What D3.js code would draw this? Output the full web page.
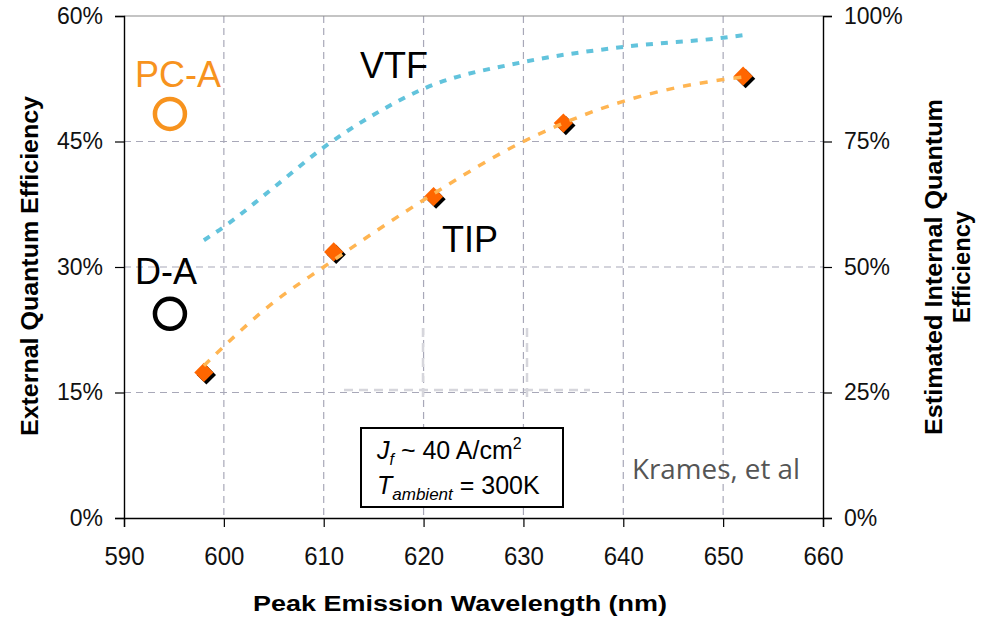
<!DOCTYPE html>
<html>
<head>
<meta charset="utf-8">
<script src="https://cdn.jsdelivr.net/npm/d3@7"></script>
<style>
  body { margin: 0; background: #fff; }
  svg { font-family: Arial, "Liberation Sans", sans-serif; }
</style>
</head>
<body>
<div id="chart"></div>
<script>
// data
const xTicks = [590, 600, 610, 620, 630, 640, 650, 660];
const eqeTicks = [0, 15, 30, 45, 60];
const iqeTicks = [0, 25, 50, 75, 100];

const tipWave = [598, 611, 621, 634, 652];
const tipEqe = [17.4, 31.8, 38.4, 47.2, 52.8];

const tipTrendWave = [598, 605, 610, 620, 630, 640, 650, 652];
const tipTrendEqe = [18.2, 25.8, 30.0, 38.0, 45.0, 49.8, 52.4, 52.7];

const vtfWave = [598, 600, 605, 610, 615, 620, 630, 640, 650, 652];
const vtfEqe = [33.2, 34.8, 39.5, 44.3, 48.2, 51.3, 54.5, 56.3, 57.4, 57.7];

const refNames = ["PC-A", "D-A"];
const refWave = [594.6, 594.6];
const refEqe = [48.3, 24.4];
const refColors = ["#F7931E", "#000000"];

const W = 990, H = 619;
const mLeft = 124, mRight = 823, mTop = 16, mBottom = 518;

const svg = d3.select("#chart").append("svg")
  .attr("width", W).attr("height", H);

const x = d3.scaleLinear().domain([590, 660]).range([mLeft, mRight]);
const y = d3.scaleLinear().domain([0, 60]).range([mBottom, mTop]);
const y2 = d3.scaleLinear().domain([0, 100]).range([mBottom, mTop]);

// grid
const grid = svg.append("g");
grid.selectAll(".vg").data(xTicks.slice(1, -1)).enter().append("line")
  .attr("x1", d => x(d)).attr("x2", d => x(d))
  .attr("y1", mTop).attr("y2", mBottom)
  .attr("stroke", "#A8A8B8").attr("stroke-width", 1.2)
  .attr("stroke-dasharray", "7,5");
grid.selectAll(".hg").data(eqeTicks.slice(1, -1)).enter().append("line")
  .attr("x1", mLeft).attr("x2", mRight)
  .attr("y1", d => y(d)).attr("y2", d => y(d))
  .attr("stroke", "#A8A8B8").attr("stroke-width", 1.2)
  .attr("stroke-dasharray", "7,5");

// faint ghost lines in the picture
const ghost = svg.append("g").attr("stroke", "#D6D6DC").attr("stroke-width", 2.5)
  .attr("stroke-dasharray", "9,6").attr("fill", "none");
ghost.append("line").attr("x1", 344).attr("x2", 590).attr("y1", 390).attr("y2", 390);
ghost.append("line").attr("x1", 423).attr("x2", 423).attr("y1", 328).attr("y2", 402);
ghost.append("line").attr("x1", 527).attr("x2", 527).attr("y1", 328).attr("y2", 402);

// top border
svg.append("line").attr("x1", mLeft).attr("x2", mRight).attr("y1", mTop).attr("y2", mTop)
  .attr("stroke", "#8a8a8a").attr("stroke-width", 1.2);

// axes
const axisFont = "23px";
const gx = svg.append("g").attr("transform", `translate(0,${mBottom})`)
  .call(d3.axisBottom(x).tickValues(xTicks).tickSize(9).tickPadding(20).tickFormat(d3.format("d")));
gx.selectAll("text").attr("font-size", "26px").attr("fill", "#111")
  .attr("textLength", 40).attr("lengthAdjust", "spacingAndGlyphs");
const gy = svg.append("g").attr("transform", `translate(${mLeft},0)`)
  .call(d3.axisLeft(y).tickValues(eqeTicks).tickSize(9).tickPadding(12).tickFormat(d => d + "%"));
gy.selectAll("text").attr("font-size", axisFont).attr("fill", "#111");
const gy2 = svg.append("g").attr("transform", `translate(${mRight},0)`)
  .call(d3.axisRight(y2).tickValues(iqeTicks).tickSize(9).tickPadding(12).tickFormat(d => d + "%"));
gy2.selectAll("text").attr("font-size", axisFont).attr("fill", "#111");
svg.selectAll(".domain").attr("stroke", "#000").attr("stroke-width", 1.4);
svg.selectAll(".tick line").attr("stroke", "#000").attr("stroke-width", 1.2);

// axis titles
svg.append("text").attr("x", 460).attr("y", 611).attr("text-anchor", "middle")
  .attr("font-weight", "bold").attr("font-size", "22px")
  .attr("textLength", 414).attr("lengthAdjust", "spacingAndGlyphs")
  .text("Peak Emission Wavelength (nm)");
svg.append("text").attr("transform", "translate(38,266) rotate(-90)").attr("text-anchor", "middle")
  .attr("font-weight", "bold").attr("font-size", "23px")
  .attr("textLength", 340).attr("lengthAdjust", "spacingAndGlyphs")
  .text("External Quantum Efficiency");
svg.append("text").attr("transform", "translate(942,267) rotate(-90)").attr("text-anchor", "middle")
  .attr("font-weight", "bold").attr("font-size", "23px")
  .attr("textLength", 336).attr("lengthAdjust", "spacingAndGlyphs")
  .text("Estimated Internal Quantum");
svg.append("text").attr("transform", "translate(970,267) rotate(-90)").attr("text-anchor", "middle")
  .attr("font-weight", "bold").attr("font-size", "23px")
  .attr("textLength", 112).attr("lengthAdjust", "spacingAndGlyphs")
  .text("Efficiency");

// trend lines
const line = d3.line().x(d => x(d[0])).y(d => y(d[1])).curve(d3.curveMonotoneX);
svg.append("path").datum(vtfWave.map((w, i) => [w, vtfEqe[i]]))
  .attr("d", line).attr("fill", "none").attr("stroke", "#62C3DC")
  .attr("stroke-width", 4).attr("stroke-dasharray", "7,8");

// TIP diamonds with shadow
const tip = tipWave.map((w, i) => [w, tipEqe[i]]);
const diamond = d3.symbol().type(d3.symbolSquare).size(185);
svg.selectAll(".shadow").data(tip).enter().append("path")
  .attr("d", diamond)
  .attr("transform", d => `translate(${x(d[0]) + 2.5},${y(d[1]) + 2.5}) rotate(45)`)
  .attr("fill", "#000");
svg.selectAll(".tip").data(tip).enter().append("path")
  .attr("d", diamond)
  .attr("transform", d => `translate(${x(d[0])},${y(d[1])}) rotate(45)`)
  .attr("fill", "#FF6600");

svg.append("path").datum(tipTrendWave.map((w, i) => [w, tipTrendEqe[i]]))
  .attr("d", line).attr("fill", "none").attr("stroke", "#FFB552")
  .attr("stroke-width", 3.5).attr("stroke-dasharray", "8,9");

// reference circles
svg.selectAll(".ref").data(refNames).enter().append("circle")
  .attr("cx", (d, i) => x(refWave[i])).attr("cy", (d, i) => y(refEqe[i]))
  .attr("r", 15).attr("fill", "none")
  .attr("stroke", (d, i) => refColors[i]).attr("stroke-width", 4.5);

// labels
const labels = [
  { t: "PC-A", x: 135, y: 87, c: "#F7931E" },
  { t: "VTF", x: 360, y: 78, c: "#000" },
  { t: "D-A", x: 135, y: 284, c: "#000" },
  { t: "TIP", x: 442, y: 252, c: "#000" }
];
svg.selectAll(".lbl").data(labels).enter().append("text")
  .attr("x", d => d.x).attr("y", d => d.y).attr("fill", d => d.c)
  .attr("font-size", "36px").text(d => d.t);

// condition box
svg.append("rect").attr("x", 361).attr("y", 428).attr("width", 202).attr("height", 79)
  .attr("fill", "#fff").attr("stroke", "#000").attr("stroke-width", 2);
const t1 = svg.append("text").attr("x", 377).attr("y", 459).attr("font-size", "25px");
t1.append("tspan").attr("font-style", "italic").text("J");
t1.append("tspan").attr("font-style", "italic").attr("font-size", "16px").attr("dy", 6).text("f");
t1.append("tspan").attr("dy", -6).text(" ~ 40 A/cm");
t1.append("tspan").attr("font-size", "16px").attr("dy", -10).text("2");
const t2 = svg.append("text").attr("x", 377).attr("y", 494).attr("font-size", "25px");
t2.append("tspan").attr("font-style", "italic").text("T");
t2.append("tspan").attr("font-style", "italic").attr("font-size", "17px").attr("dy", 6).text("ambient");
t2.append("tspan").attr("dy", -6).text(" = 300K");

svg.append("text").attr("x", 632).attr("y", 479).attr("fill", "#555")
  .attr("font-family", "'Open Sans', sans-serif").attr("font-size", "27px")
  .attr("textLength", 168).attr("lengthAdjust", "spacingAndGlyphs")
  .text("Krames, et al");
</script>
</body>
</html>
